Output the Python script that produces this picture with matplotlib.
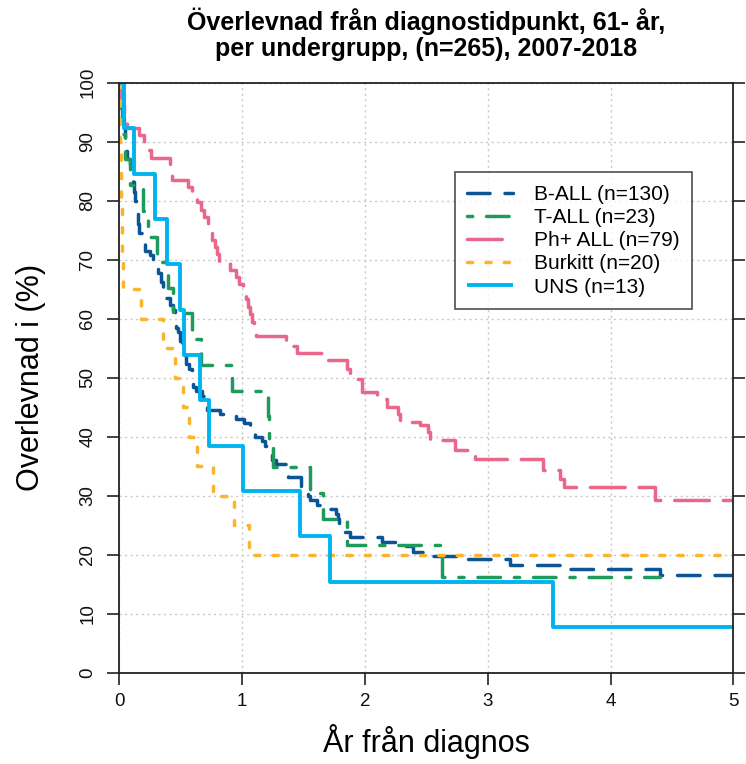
import matplotlib
matplotlib.use("Agg")
import matplotlib.pyplot as plt

# Survival curves (years, survival %), steps drawn 'post'
ball_t = [0, 0.004, 0.008, 0.012, 0.016, 0.020, 0.029, 0.037, 0.045, 0.053, 0.061,
          0.086, 0.102, 0.110, 0.118, 0.126, 0.134, 0.143, 0.151, 0.159, 0.183,
          0.208, 0.248, 0.273, 0.297, 0.314, 0.338, 0.354, 0.371, 0.411, 0.436,
          0.452, 0.460, 0.476, 0.493, 0.509, 0.525, 0.542, 0.566, 0.590, 0.598,
          0.623, 0.672, 0.688, 0.713, 0.818, 0.949, 1.014, 1.063, 1.087, 1.104,
          1.161, 1.185, 1.209, 1.242, 1.274, 1.356, 1.372, 1.478, 1.493, 1.535,
          1.551, 1.608, 1.714, 1.763, 1.779, 1.792, 1.812, 1.836, 1.877, 2.138,
          2.309, 2.390, 2.529, 2.749, 3.180, 3.652, 4.401, 5.0]
ball_s = [100, 99.2, 98.5, 97.7, 96.9, 95.4, 93.8, 92.3, 90.0, 88.5, 87.0,
          86.2, 84.6, 83.1, 81.5, 80.0, 79.2, 77.7, 76.1, 74.6, 73.1,
          71.5, 70.8, 69.2, 68.5, 67.7, 66.2, 65.0, 63.5, 62.3, 61.5,
          60.0, 58.5, 57.7, 56.2, 54.9, 53.8, 52.3, 51.5, 50.0, 48.5,
          47.7, 46.9, 45.4, 44.6, 43.8, 43.0, 42.3, 41.5, 40.7, 40.0,
          39.2, 38.4, 37.6, 36.1, 35.4, 34.6, 33.2, 31.5, 30.7, 30.0,
          29.3, 28.5, 27.8, 26.9, 26.1, 25.3, 24.4, 23.8, 23.0, 22.2,
          21.4, 20.5, 19.8, 19.3, 18.3, 17.5, 16.6, 16.6]

tall_t = [0, 0.012, 0.020, 0.045, 0.086, 0.191, 0.232, 0.305, 0.395, 0.436, 0.590,
          0.664, 0.916, 1.209, 1.217, 1.250, 1.551, 1.657, 1.853, 2.626, 4.40]
tall_s = [100, 95.7, 91.3, 87.0, 82.6, 78.3, 73.9, 69.6, 65.2, 60.9, 56.5,
          52.2, 47.8, 43.5, 39.1, 34.8, 30.4, 26.1, 21.7, 16.3, 16.3]

ph_t = [0, 0.004, 0.020, 0.037, 0.053, 0.060, 0.160, 0.200, 0.240, 0.260, 0.411,
        0.420, 0.430, 0.560, 0.590, 0.631, 0.664, 0.688, 0.721, 0.737, 0.753,
        0.778, 0.794, 0.810, 0.900, 0.949, 0.973, 1.006, 1.031, 1.047, 1.063,
        1.079, 1.095, 1.112, 1.356, 1.446, 1.698, 1.853, 1.877, 1.975, 2.097,
        2.178, 2.268, 2.284, 2.447, 2.512, 2.529, 2.732, 2.894, 3.448, 3.586,
        3.619, 4.360, 5.0]
ph_s = [100, 97.5, 96.2, 94.9, 93.7, 92.4, 91.1, 89.9, 88.6, 87.3, 86.1,
        84.8, 83.5, 82.3, 81.0, 79.7, 78.5, 77.2, 75.9, 74.7, 73.4,
        72.1, 70.9, 69.6, 68.3, 67.1, 65.8, 64.5, 63.3, 62.0, 60.8,
        59.5, 58.2, 57.0, 55.3, 54.2, 53.0, 51.4, 49.7, 47.6, 46.4,
        45.1, 43.8, 42.5, 42.0, 40.8, 39.5, 37.8, 36.3, 34.4, 32.9,
        31.4, 29.3, 29.3]

burkitt_t = [0, 0.002, 0.006, 0.010, 0.015, 0.020, 0.025, 0.030, 0.175, 0.354,
             0.452, 0.517, 0.566, 0.631, 0.761, 0.932, 1.055, 5.0]
burkitt_s = [100, 95, 90, 85, 80, 75, 70, 65, 60, 55,
             50, 45, 40, 35, 30, 25, 20, 20]

uns_t = [0, 0.037, 0.118, 0.289, 0.387, 0.493, 0.525, 0.656, 0.729, 1.006,
         1.470, 1.714, 3.530, 5.0]
uns_s = [100, 92.3, 84.6, 76.9, 69.2, 61.5, 53.8, 46.2, 38.5, 30.8,
         23.1, 15.4, 7.7, 7.7]

labels = ["B-ALL (n=130)", "T-ALL (n=23)", "Ph+ ALL (n=79)", "Burkitt (n=20)", "UNS (n=13)"]
colors = ["#0B5596", "#1E9A5C", "#E8678B", "#FBB52C", "#00B3EF"]
styles = [(0, (6.5, 4.3)), (0, (1.5, 4.0, 6.5, 4.0)), (0, (10, 4)), (0, (1.5, 3.8)), "-"]

curves = [(ball_t, ball_s), (tall_t, tall_s), (ph_t, ph_s),
          (burkitt_t, burkitt_s), (uns_t, uns_s)]

plt.rcParams["font.family"] = ["Liberation Sans", "DejaVu Sans"]

fig = plt.figure(figsize=(7.46, 7.64), dpi=100)
ax = fig.add_axes([0.160, 0.1195, 0.823, 0.7723])

for (t, s), lab, col, ls in zip(curves, labels, colors, styles):
    lw = 2.8 if ls == "-" else 2.5
    ax.step(t, s, where="post", color=col, linestyle=ls, linewidth=lw,
            label=lab, solid_capstyle="butt", dash_capstyle="round")

ax.set_xlim(0, 5)
ax.set_ylim(0, 100)
ax.set_xticks(range(0, 6))
ax.set_yticks(range(0, 101, 10))
ax.grid(True, color="#c8c8c8", linestyle=(0, (1.5, 2.5)), linewidth=1.0)
ax.set_axisbelow(True)

for sp in ax.spines.values():
    sp.set_color("#222222")
    sp.set_linewidth(1.3)

ax.tick_params(axis="both", direction="out", length=8.5, width=1.2, color="#222222",
               labelsize=13.5, labelcolor="#111111")
ax.tick_params(axis="y", right=True, pad=8)
ax.tick_params(axis="x", pad=6)
for lab in ax.get_yticklabels():
    lab.set_rotation(90)
    lab.set_va("center")

ax.set_xlabel("År från diagnos", fontsize=22, labelpad=10)
ax.set_ylabel("Overlevnad i (%)", fontsize=22, labelpad=24)
ax.set_title("Överlevnad från diagnostidpunkt, 61- år,\nper undergrupp, (n=265), 2007-2018",
             fontsize=18, fontweight="bold", pad=19, linespacing=1.1)

leg = ax.legend(loc="upper left", bbox_to_anchor=(0.546, 0.848), fontsize=15,
                frameon=True, fancybox=False, edgecolor="#222222",
                handlelength=2.2, handletextpad=1.0, labelspacing=0.2,
                borderpad=0.6, borderaxespad=0)
leg.get_frame().set_linewidth(1.2)

fig.savefig("out.png", dpi=100)
